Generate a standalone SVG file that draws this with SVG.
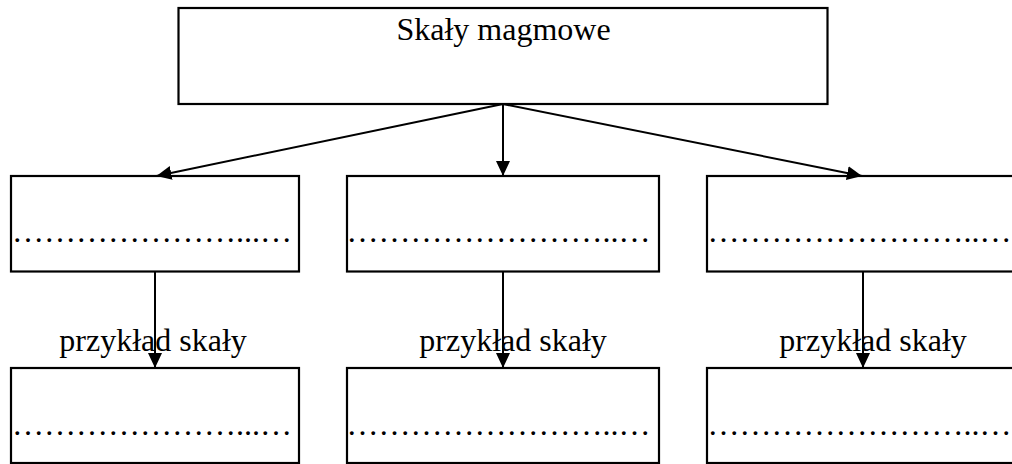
<svg xmlns="http://www.w3.org/2000/svg" width="1012" height="464" viewBox="0 0 1012 464">
<style>
.box{fill:#fff;stroke:#000;stroke-width:2.2}
.t{font-family:"Liberation Serif","Times New Roman",serif;font-size:32px;fill:#000}
.c{fill:none;stroke:#000;stroke-width:2}
</style>
<defs>
<marker id="ah" markerUnits="userSpaceOnUse" markerWidth="16" markerHeight="14" refX="15" refY="7" orient="auto" viewBox="0 0 16 14">
<path d="M0,0 L15,7 L0,14 z" fill="#000"/>
</marker>
</defs>
<g id="n-top">
<rect class="box" x="178.5" y="8" width="649" height="96"/>
<text class="t" x="503.5" y="39.5" text-anchor="middle">Skały magmowe</text>
</g>
<g id="n-l1">
<rect class="box" x="11" y="176" width="288" height="95.5"/>
<text class="t" x="12" y="242.3">…………………...…</text>
</g>
<g id="n-m1">
<rect class="box" x="347" y="176" width="312" height="95.5"/>
<text class="t" x="346.4" y="242.3">……………………..…</text>
</g>
<g id="n-r1">
<rect class="box" x="707" y="176" width="320" height="95.5"/>
<text class="t" x="707.4" y="242.3">……………………..…</text>
</g>
<g id="n-l2">
<rect class="box" x="11" y="368" width="288" height="95"/>
<text class="t" x="12" y="435">…………………...…</text>
</g>
<g id="n-m2">
<rect class="box" x="347" y="368" width="312" height="95"/>
<text class="t" x="346.4" y="435">……………………..…</text>
</g>
<g id="n-r2">
<rect class="box" x="707" y="368" width="320" height="95"/>
<text class="t" x="707.4" y="435">……………………..…</text>
</g>
<g id="connectors">
<line class="c" x1="503" y1="104" x2="156.5" y2="176" marker-end="url(#ah)"/>
<line class="c" x1="503" y1="104" x2="503" y2="176" marker-end="url(#ah)"/>
<line class="c" x1="503" y1="104" x2="862" y2="176" marker-end="url(#ah)"/>
<line class="c" x1="155" y1="271.5" x2="155" y2="368" marker-end="url(#ah)"/>
<line class="c" x1="503" y1="271.5" x2="503" y2="368" marker-end="url(#ah)"/>
<line class="c" x1="863" y1="271.5" x2="863" y2="368" marker-end="url(#ah)"/>
</g>
<g id="labels">
<text class="t" x="59.3" y="351">przykład skały</text>
<text class="t" x="419.3" y="351">przykład skały</text>
<text class="t" x="779.3" y="351">przykład skały</text>
</g>
</svg>
